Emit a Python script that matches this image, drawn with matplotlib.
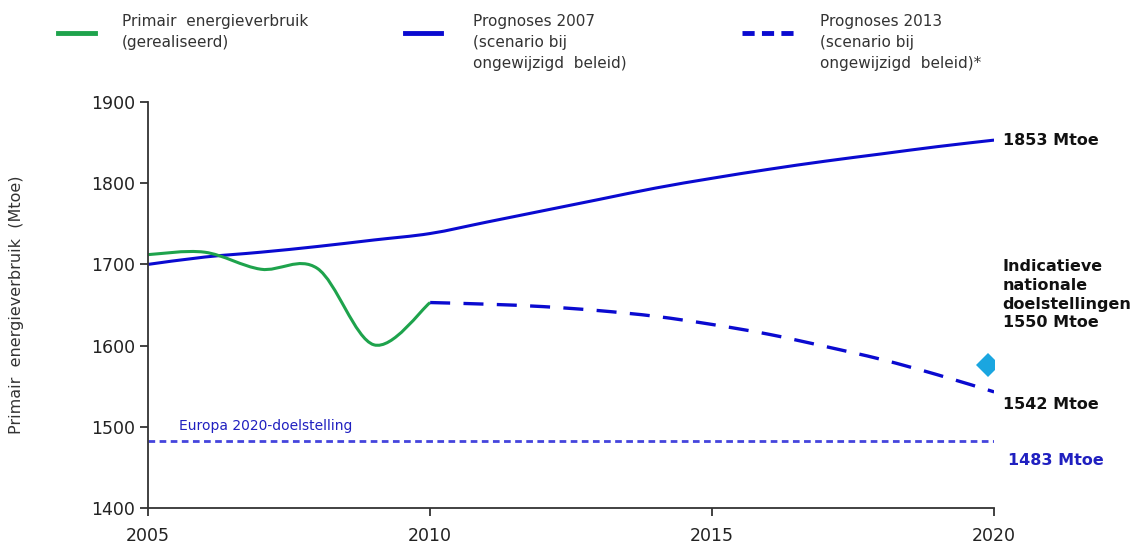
import matplotlib.pyplot as plt
from matplotlib.path import Path
from matplotlib.patches import PathPatch
from matplotlib.lines import Line2D

# data
years_real = [2005, 2006, 2007, 2008, 2009, 2010]
real = [1712, 1715, 1694, 1695, 1601, 1653]

years_p07 = list(range(2005, 2021))
prog_2007 = [1700, 1709, 1715, 1722, 1730, 1738, 1752, 1766, 1780, 1794, 1806,
             1817, 1827, 1836, 1845, 1853]

years_p13 = list(range(2010, 2021))
prog_2013 = [1653, 1651, 1648, 1643, 1636, 1626, 1614, 1599, 1583, 1564, 1543]

eu_target = 1483
nat_target_year = 2019.9
nat_target = 1576

green = '#1ea34c'
blue = '#0a0ad0'
eu_blue = '#4444dd'
cyan = '#1aa6e0'


def smooth_path(xs, ys):
    # catmull-rom style bezier through the points (like a smoothed excel line)
    verts = [(xs[0], ys[0])]
    codes = [Path.MOVETO]
    n = len(xs)
    for i in range(n - 1):
        x0, y0 = (xs[i - 1], ys[i - 1]) if i > 0 else (xs[i], ys[i])
        x1, y1 = xs[i], ys[i]
        x2, y2 = xs[i + 1], ys[i + 1]
        x3, y3 = (xs[i + 2], ys[i + 2]) if i + 2 < n else (x2, y2)
        c1 = (x1 + (x2 - x0) / 6, y1 + (y2 - y0) / 6)
        c2 = (x2 - (x3 - x1) / 6, y2 - (y3 - y1) / 6)
        verts += [c1, c2, (x2, y2)]
        codes += [Path.CURVE4] * 3
    return Path(verts, codes)


fig = plt.figure(figsize=(11.4, 5.51), dpi=100)
ax = fig.add_axes([0.13, 0.078, 0.742, 0.737])

ax.add_patch(PathPatch(smooth_path(years_p07, prog_2007), fill=False,
                       color=blue, lw=2.2))
ax.add_patch(PathPatch(smooth_path(years_real, real), fill=False,
                       color=green, lw=2.2))
ax.add_patch(PathPatch(smooth_path(years_p13, prog_2013), fill=False,
                       color=blue, lw=2.4, linestyle=(0, (6, 4))))
ax.plot([2005, 2020], [eu_target, eu_target], color=eu_blue, lw=2,
        linestyle=(0, (2.4, 1.6)))
ax.plot([nat_target_year], [nat_target], marker='D', color=cyan, ms=12,
        markeredgewidth=0)

ax.set_xlim(2005, 2020)
ax.set_ylim(1400, 1900)
ax.set_xticks([2005, 2010, 2015, 2020])
ax.set_yticks([1400, 1500, 1600, 1700, 1800, 1900])
for s in ['top', 'right']:
    ax.spines[s].set_visible(False)
for s in ['left', 'bottom']:
    ax.spines[s].set_color('#333333')
    ax.spines[s].set_linewidth(1.3)
ax.tick_params(axis='both', colors='#333333', labelsize=12.5, length=6,
               width=1.3, labelcolor='#222222')
ax.tick_params(axis='x', pad=8)
ax.set_ylabel('Primair  energieverbruik  (Mtoe)', fontsize=11.5,
              color='#333333', labelpad=48)

bold = dict(fontsize=11.5, fontweight='bold', color='#111111', clip_on=False)
ax.text(2020.15, 1853, '1853 Mtoe', va='center', **bold)
ax.text(2020.15, 1706, 'Indicatieve\nnationale\ndoelstellingen\n1550 Mtoe',
        va='top', linespacing=1.3, **bold)
ax.text(2020.15, 1528, '1542 Mtoe', va='center', **bold)
ax.text(2020.25, 1458, '1483 Mtoe', va='center', fontsize=11.5,
        fontweight='bold', color='#2020c0', clip_on=False)
ax.text(2005.55, 1496, 'Europa 2020-doelstelling', fontsize=10,
        color='#2020c0', family=['Liberation Sans Narrow', 'DejaVu Sans'])

# legend drawn by hand across the top
legend_items = [
    (0.051, 0.083, 0.107, dict(color=green, lw=3.5),
     'Primair  energieverbruik\n(gerealiseerd)'),
    (0.355, 0.387, 0.415, dict(color=blue, lw=3.5),
     'Prognoses 2007\n(scenario bij\nongewijzigd  beleid)'),
    (0.651, 0.702, 0.719, dict(color=blue, lw=3.5, linestyle=(0, (2.5, 1.5))),
     'Prognoses 2013\n(scenario bij\nongewijzigd  beleid)*'),
]
for x0, x1, xt, style, label in legend_items:
    fig.add_artist(Line2D([x0, x1], [0.94, 0.94], transform=fig.transFigure,
                          **style))
    fig.text(xt, 0.975, label, va='top', fontsize=11, color='#333333',
             linespacing=1.5)

fig.savefig('out.png', dpi=100)
